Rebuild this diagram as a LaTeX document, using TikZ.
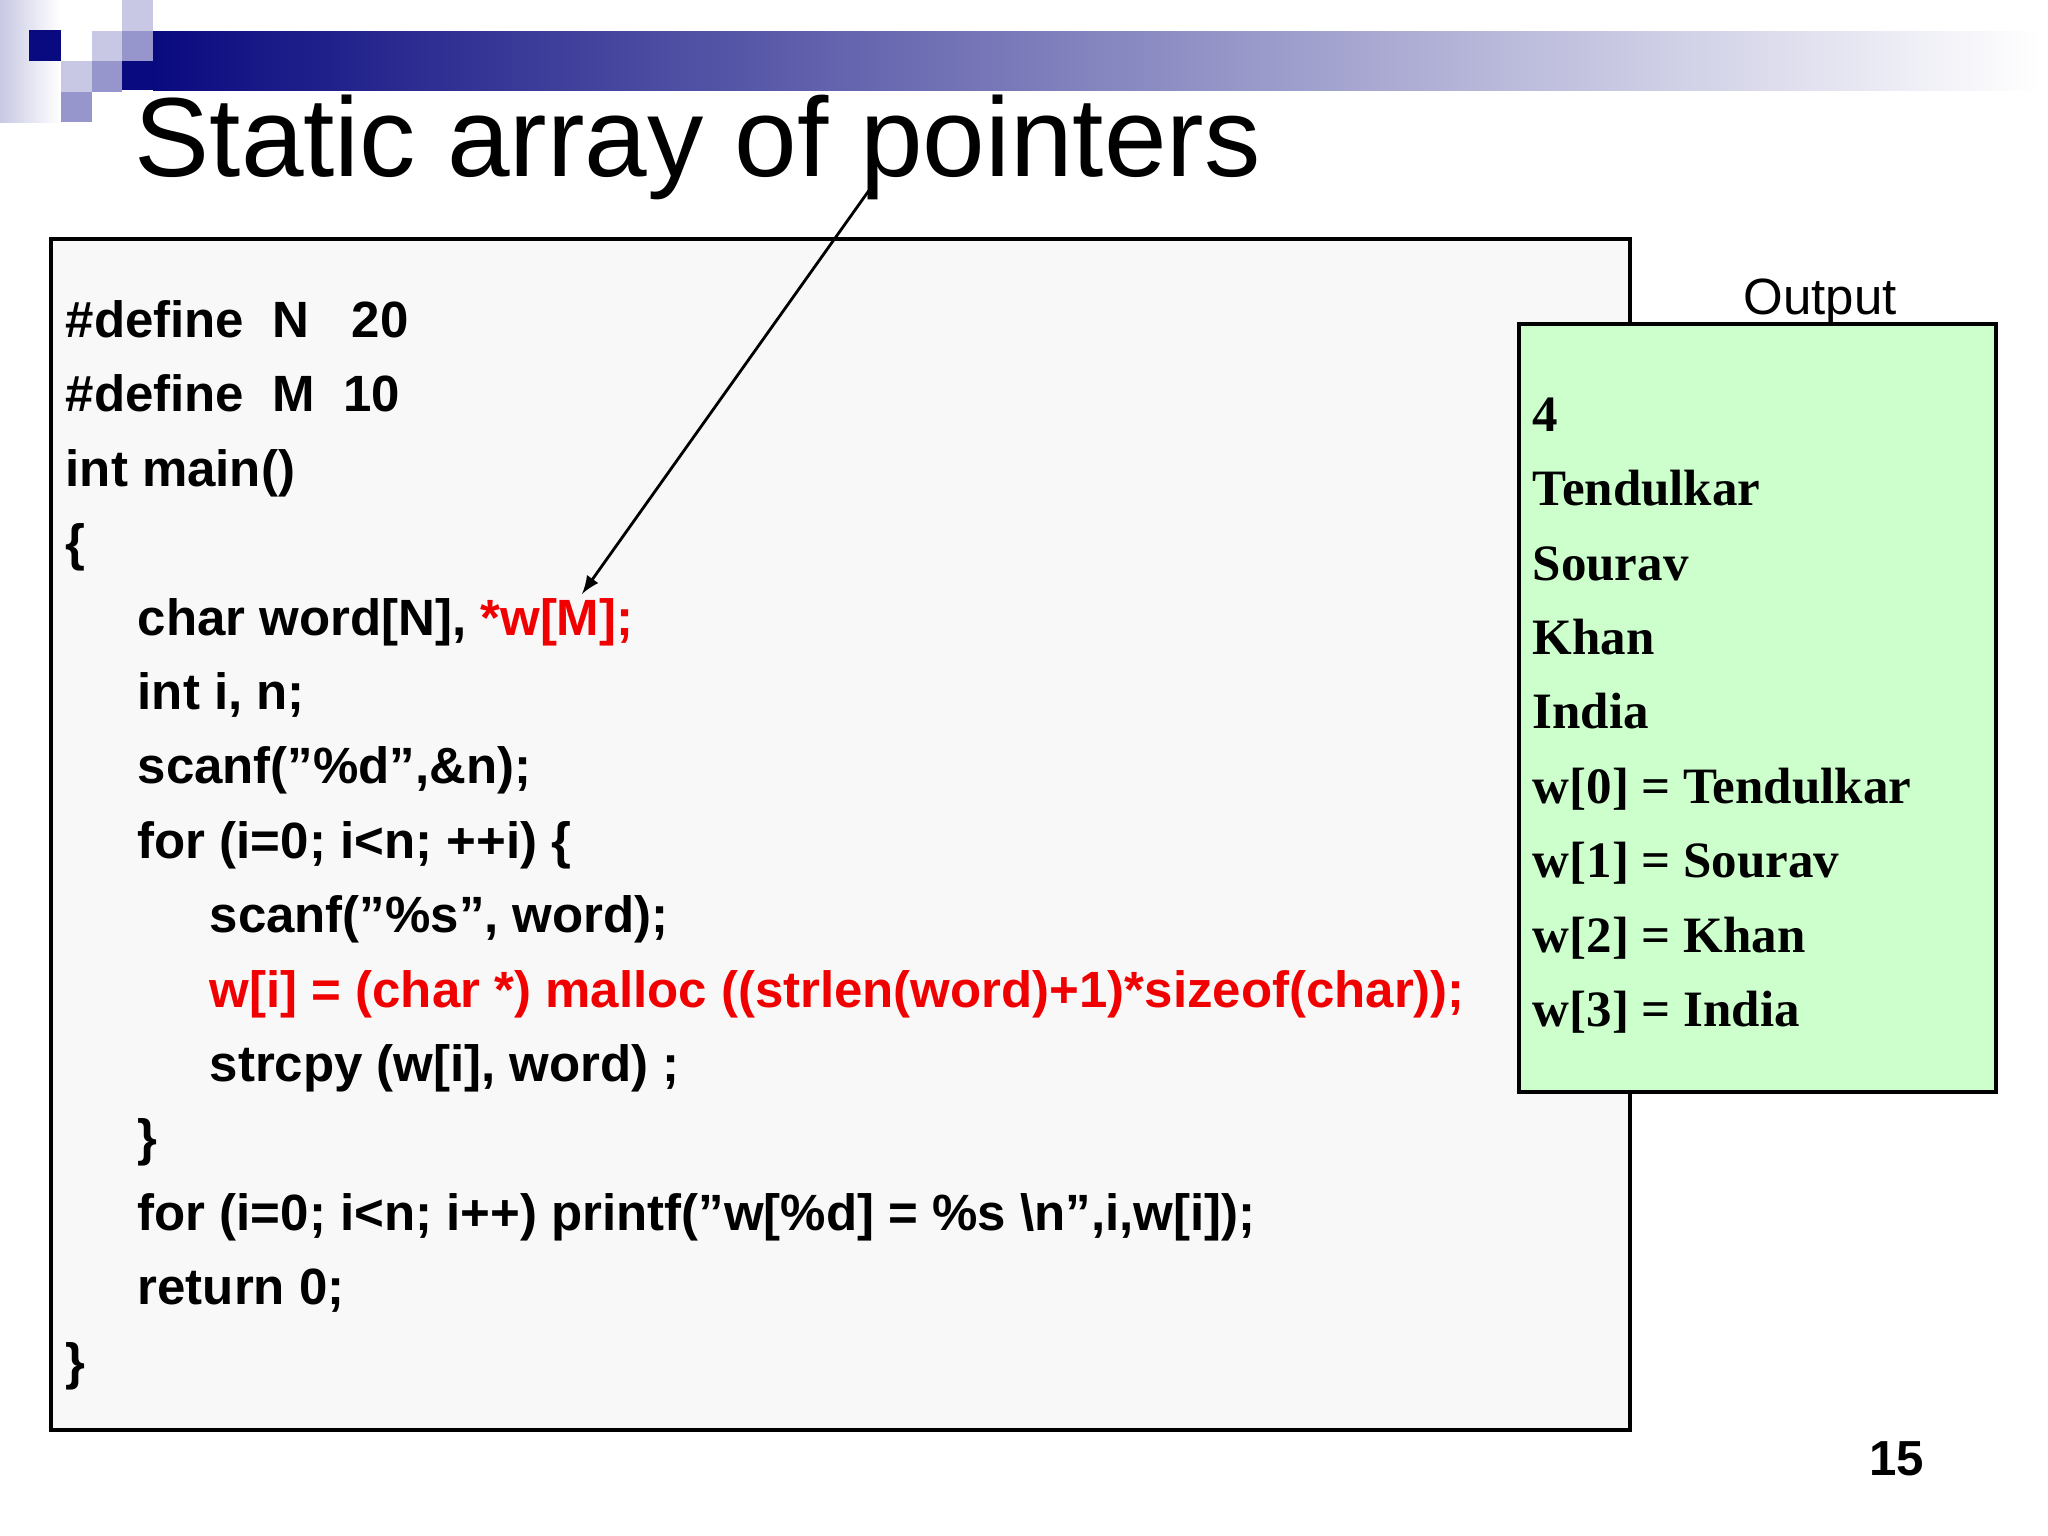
\documentclass[tikz,border=0pt]{standalone}
\usepackage{fontspec}
\setmainfont{Liberation Sans}
\newfontfamily\outfont{Liberation Serif}
\newcommand{\qq}{\char34\relax}
\definecolor{navy}{RGB}{10,10,128}
\definecolor{lav}{RGB}{200,200,228}
\definecolor{med}{RGB}{150,150,204}
\definecolor{codebg}{RGB}{248,248,248}
\definecolor{outbg}{RGB}{204,255,204}
\definecolor{cred}{RGB}{240,0,0}
\begin{document}
\begin{tikzpicture}[x=0.01cm,y=-0.01cm,
  code/.style={anchor=base west,inner sep=0,font=\fontsize{14.5}{17}\selectfont\bfseries},
  outl/.style={anchor=base west,inner sep=0,font=\fontsize{14.5}{17}\selectfont\outfont\bfseries},
  redt/.style={text=cred},
  boxline/.style={draw=black,line width=1pt}]
\useasboundingbox (0,0) rectangle (2048,1536);
\fill[white] (0,0) rectangle (2048,1536);
% decoration
\shade[left color=lav,right color=white] (0,0) rectangle (60,122);
\shade[left color=navy,right color=white] (153,31) rectangle (2040,90);
\fill[navy] (122,61) rectangle (154,90);
\fill[navy] (29,30) rectangle (61,61);
\fill[lav] (92,31) rectangle (122,61);
\fill[med] (122,31) rectangle (153,61);
\fill[lav] (122,0) rectangle (153,31);
\fill[lav] (61,61) rectangle (92,92);
\fill[med] (92,61) rectangle (122,92);
\fill[med] (61,92) rectangle (122-30,122);
\node[anchor=base west,inner sep=0,font=\fontsize{32}{38}\selectfont] (title) at (134,176) {Static array of pointers};
% code box
\draw[boxline,fill=codebg] (51,239) rectangle (1630,1430);
\node[code] (l1) at (65,337) {\#define\ \ N\ \ \ 20};
\node[code] (l2) at (65,411) {\#define\ \ M\ \ 10};
\node[code] (l3) at (65,486) {int main()};
\node[code] (l4) at (65,560) {\{};
\node[code] (l5) at (137,635) {char word[N], \textcolor{cred}{*w[M];}};
\node[code] (l6) at (137,709) {int i, n;};
\node[code] (l7) at (137,783) {scanf(\qq\%d\qq,\&n);};
\node[code] (l8) at (137,858) {for (i=0; i<n; ++i) \{};
\node[code] (l9) at (209,932) {scanf(\qq\%s\qq, word);};
\node[code,redt] (l10) at (209,1007) {w[i] = (char *) malloc ((strlen(word)+1)*sizeof(char));};
\node[code] (l11) at (209,1081) {strcpy (w[i], word) ;};
\node[code] (l12) at (137,1155) {\}};
\node[code] (l13) at (137,1230) {for (i=0; i<n; i++) printf(\qq w[\%d] = \%s \textbackslash n\qq,i,w[i]);};
\node[code] (l14) at (137,1304) {return 0;};
\node[code] (l15) at (65,1379) {\}};
% output
\draw[boxline,fill=outbg] (1519,324) rectangle (1996,1092);
\node[anchor=base,inner sep=0,font=\fontsize{14.5}{17}\selectfont] (outlab) at (1820,314) {Output};
\node[outl] (o1) at (1532,431) {4};
\node[outl] (o2) at (1532,505) {Tendulkar};
\node[outl] (o3) at (1532,580) {Sourav};
\node[outl] (o4) at (1532,654) {Khan};
\node[outl] (o5) at (1532,728) {India};
\node[outl] (o6) at (1532,803) {w[0] = Tendulkar};
\node[outl] (o7) at (1532,877) {w[1] = Sourav};
\node[outl] (o8) at (1532,952) {w[2] = Khan};
\node[outl] (o9) at (1532,1026) {w[3] = India};
% arrow
\coordinate (as) at (870,189);
\coordinate (ae) at (582,594);
\draw[-latex,line width=0.8pt] (as) -- (ae);
\node[anchor=base east,inner sep=0,font=\fontsize{14}{17}\selectfont\bfseries] (pg) at (1925,1475) {15};
\end{tikzpicture}
\end{document}
